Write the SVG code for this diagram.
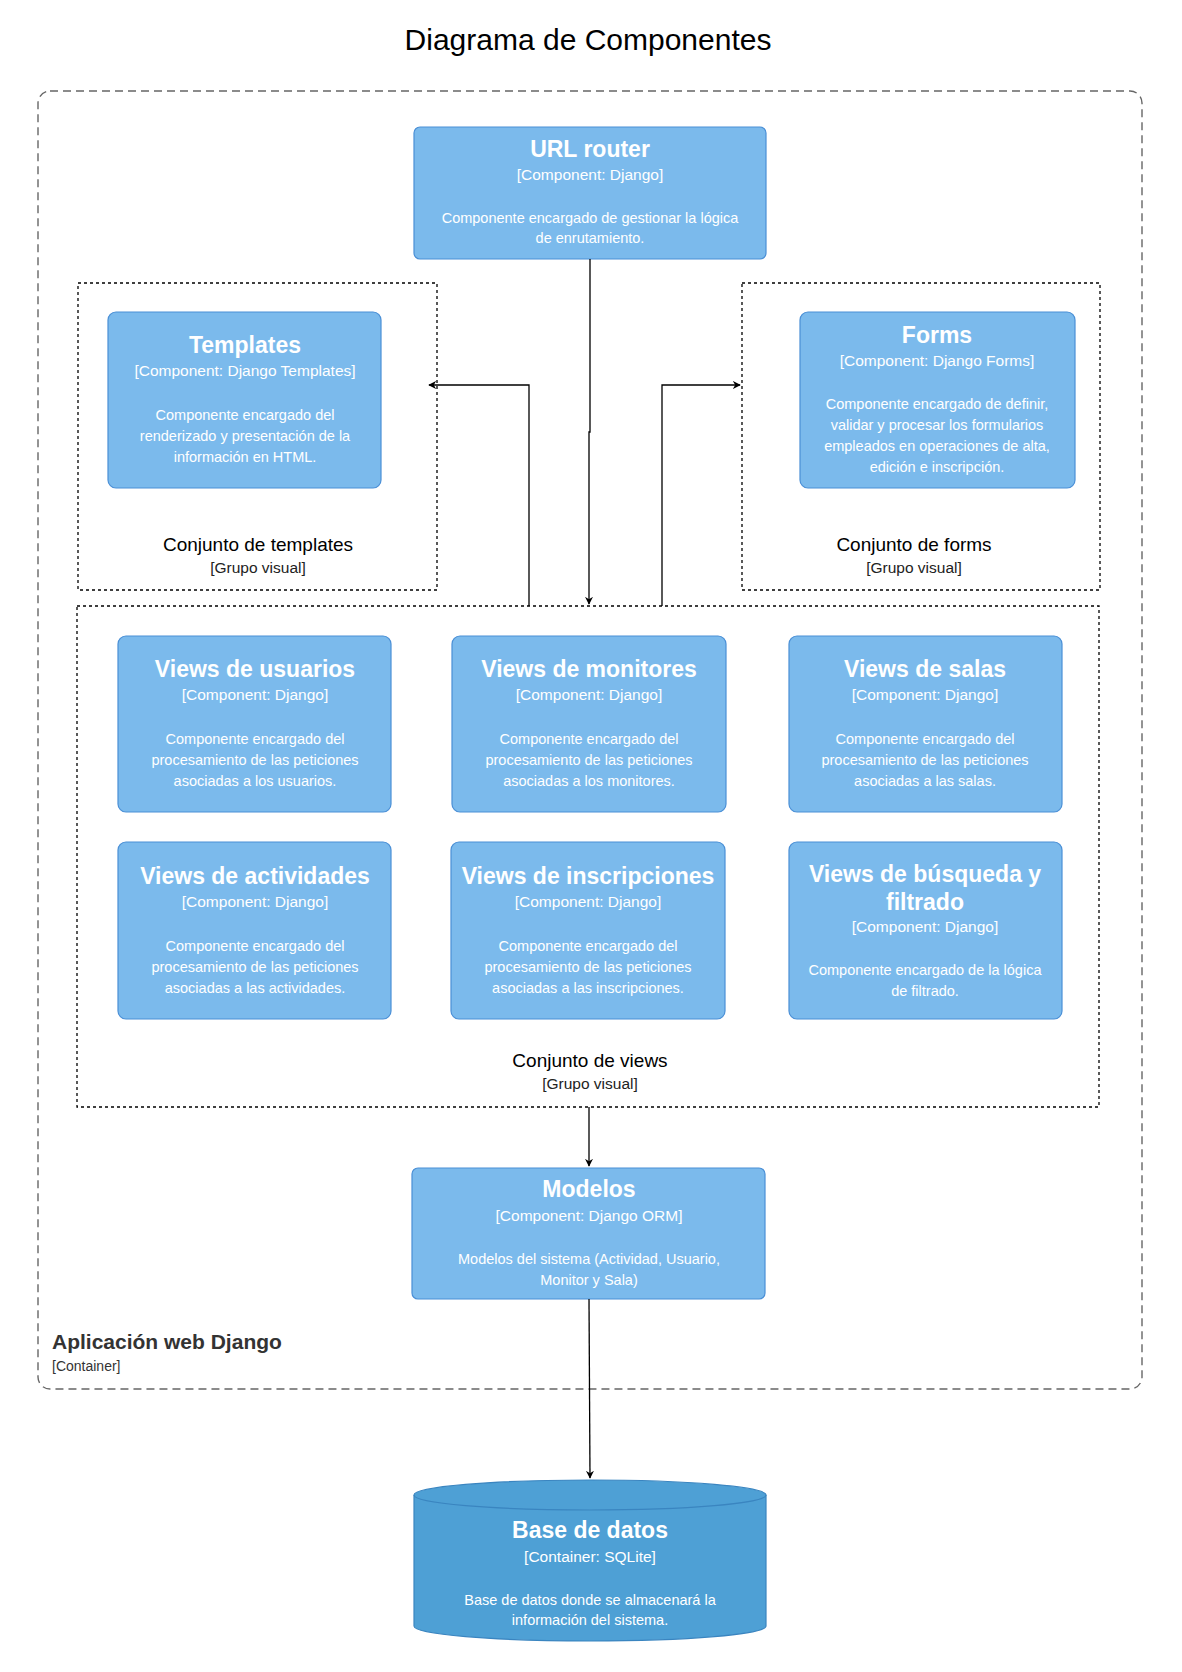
<svg xmlns="http://www.w3.org/2000/svg" width="1182" height="1672" viewBox="0 0 1182 1672">
<style>
text{font-family:"Liberation Sans",Arial,sans-serif;text-anchor:middle}
.box{fill:#7BBAEC;stroke:#4A8FD6;stroke-width:1.2}
.t{fill:#fff;font-weight:bold;font-size:23px}
.s{fill:#fff;font-size:15.5px}
.d{fill:#fff;font-size:14.5px}
.grp{fill:none;stroke:#000;stroke-width:1.3;stroke-dasharray:3 3}
.gl{fill:#000;font-size:19px}
.gs{fill:#222;font-size:15.5px}
.c{fill:none;stroke:#000;stroke-width:1.3}
</style>
<defs><marker id="a" viewBox="0 0 10 10" refX="9" refY="5" markerWidth="8" markerHeight="8" markerUnits="userSpaceOnUse" orient="auto"><path d="M0,0L10,5L0,10L3,5z" fill="#000"/></marker></defs>
<rect width="1182" height="1672" fill="#fff"/>
<text x="588" y="50" font-size="30" fill="#000">Diagrama de Componentes</text>
<g id="container">
<rect x="38" y="91" width="1104" height="1298" rx="12" fill="none" stroke="#666" stroke-width="1.4" stroke-dasharray="8 5"/>
<text x="52" y="1349" style="text-anchor:start;font-weight:bold;font-size:21px" fill="#333">Aplicación web Django</text>
<text x="52" y="1371" style="text-anchor:start;font-size:14px" fill="#333">[Container]</text>
</g>
<g id="router">
<rect class="box" x="414" y="127" width="352" height="132" rx="6"/>
<text class="t" x="590" y="157">URL router</text>
<text class="s" x="590" y="180">[Component: Django]</text>
<text class="d" x="590" y="223">Componente encargado de gestionar la lógica</text>
<text class="d" x="590" y="243">de enrutamiento.</text>
</g>
<g id="templates-group">
<rect class="grp" x="78" y="283" width="359" height="307"/>
<text class="gl" x="258" y="551">Conjunto de templates</text>
<text class="gs" x="258" y="573">[Grupo visual]</text>
</g>
<g id="templates">
<rect class="box" x="108" y="312" width="273" height="176" rx="8"/>
<text class="t" x="245" y="353">Templates</text>
<text class="s" x="245" y="376">[Component: Django Templates]</text>
<text class="d" x="245" y="420">Componente encargado del</text>
<text class="d" x="245" y="441">renderizado y presentación de la</text>
<text class="d" x="245" y="462">información en HTML.</text>
</g>
<g id="forms-group">
<rect class="grp" x="742" y="283" width="358" height="307"/>
<text class="gl" x="914" y="551">Conjunto de forms</text>
<text class="gs" x="914" y="573">[Grupo visual]</text>
</g>
<g id="forms">
<rect class="box" x="800" y="312" width="275" height="176" rx="8"/>
<text class="t" x="937" y="343">Forms</text>
<text class="s" x="937" y="366">[Component: Django Forms]</text>
<text class="d" x="937" y="409">Componente encargado de definir,</text>
<text class="d" x="937" y="430">validar y procesar los formularios</text>
<text class="d" x="937" y="451">empleados en operaciones de alta,</text>
<text class="d" x="937" y="472">edición e inscripción.</text>
</g>
<g id="views-group">
<rect class="grp" x="77" y="606" width="1022" height="501"/>
<text class="gl" x="590" y="1067">Conjunto de views</text>
<text class="gs" x="590" y="1089">[Grupo visual]</text>
</g>
<g id="views-usuarios">
<rect class="box" x="118" y="636" width="273" height="176" rx="8"/>
<text class="t" x="255" y="677">Views de usuarios</text>
<text class="s" x="255" y="700">[Component: Django]</text>
<text class="d" x="255" y="744">Componente encargado del</text>
<text class="d" x="255" y="765">procesamiento de las peticiones</text>
<text class="d" x="255" y="786">asociadas a los usuarios.</text>
</g>
<g id="views-monitores">
<rect class="box" x="452" y="636" width="274" height="176" rx="8"/>
<text class="t" x="589" y="677">Views de monitores</text>
<text class="s" x="589" y="700">[Component: Django]</text>
<text class="d" x="589" y="744">Componente encargado del</text>
<text class="d" x="589" y="765">procesamiento de las peticiones</text>
<text class="d" x="589" y="786">asociadas a los monitores.</text>
</g>
<g id="views-salas">
<rect class="box" x="789" y="636" width="273" height="176" rx="8"/>
<text class="t" x="925" y="677">Views de salas</text>
<text class="s" x="925" y="700">[Component: Django]</text>
<text class="d" x="925" y="744">Componente encargado del</text>
<text class="d" x="925" y="765">procesamiento de las peticiones</text>
<text class="d" x="925" y="786">asociadas a las salas.</text>
</g>
<g id="views-actividades">
<rect class="box" x="118" y="842" width="273" height="177" rx="8"/>
<text class="t" x="255" y="884">Views de actividades</text>
<text class="s" x="255" y="907">[Component: Django]</text>
<text class="d" x="255" y="951">Componente encargado del</text>
<text class="d" x="255" y="972">procesamiento de las peticiones</text>
<text class="d" x="255" y="993">asociadas a las actividades.</text>
</g>
<g id="views-inscripciones">
<rect class="box" x="451" y="842" width="274" height="177" rx="8"/>
<text class="t" x="588" y="884">Views de inscripciones</text>
<text class="s" x="588" y="907">[Component: Django]</text>
<text class="d" x="588" y="951">Componente encargado del</text>
<text class="d" x="588" y="972">procesamiento de las peticiones</text>
<text class="d" x="588" y="993">asociadas a las inscripciones.</text>
</g>
<g id="views-busqueda">
<rect class="box" x="789" y="842" width="273" height="177" rx="8"/>
<text class="t" x="925" y="882">Views de búsqueda y</text>
<text class="t" x="925" y="910">filtrado</text>
<text class="s" x="925" y="932">[Component: Django]</text>
<text class="d" x="925" y="975">Componente encargado de la lógica</text>
<text class="d" x="925" y="996">de filtrado.</text>
</g>
<g id="modelos">
<rect class="box" x="412" y="1168" width="353" height="131" rx="6"/>
<text class="t" x="589" y="1197">Modelos</text>
<text class="s" x="589" y="1221">[Component: Django ORM]</text>
<text class="d" x="589" y="1264">Modelos del sistema (Actividad, Usuario,</text>
<text class="d" x="589" y="1285">Monitor y Sala)</text>
</g>
<g id="db">
<path d="M414,1495 A176,15 0 0 1 766,1495 L766,1626 A176,15 0 0 1 414,1626 Z" fill="#4EA0D5" stroke="#3A85C0" stroke-width="1.2"/>
<path d="M414,1495 A176,15 0 0 0 766,1495" fill="none" stroke="#3A85C0" stroke-width="1.2"/>
<text class="t" x="590" y="1538">Base de datos</text>
<text class="s" x="590" y="1562">[Container: SQLite]</text>
<text class="d" x="590" y="1605" fill="#e8eef5">Base de datos donde se almacenará la</text>
<text class="d" x="590" y="1625" fill="#e8eef5">información del sistema.</text>
</g>
<g id="connectors">
<path class="c" d="M590,259 L590,432 L589,432 L589,604" marker-end="url(#a)"/>
<path class="c" d="M529,606 L529,385 L429,385" marker-end="url(#a)"/>
<path class="c" d="M662,606 L662,385 L740,385" marker-end="url(#a)"/>
<path class="c" d="M589,1107 L589,1166" marker-end="url(#a)"/>
<path class="c" d="M589,1299 L590,1478" marker-end="url(#a)"/>
</g>
</svg>
